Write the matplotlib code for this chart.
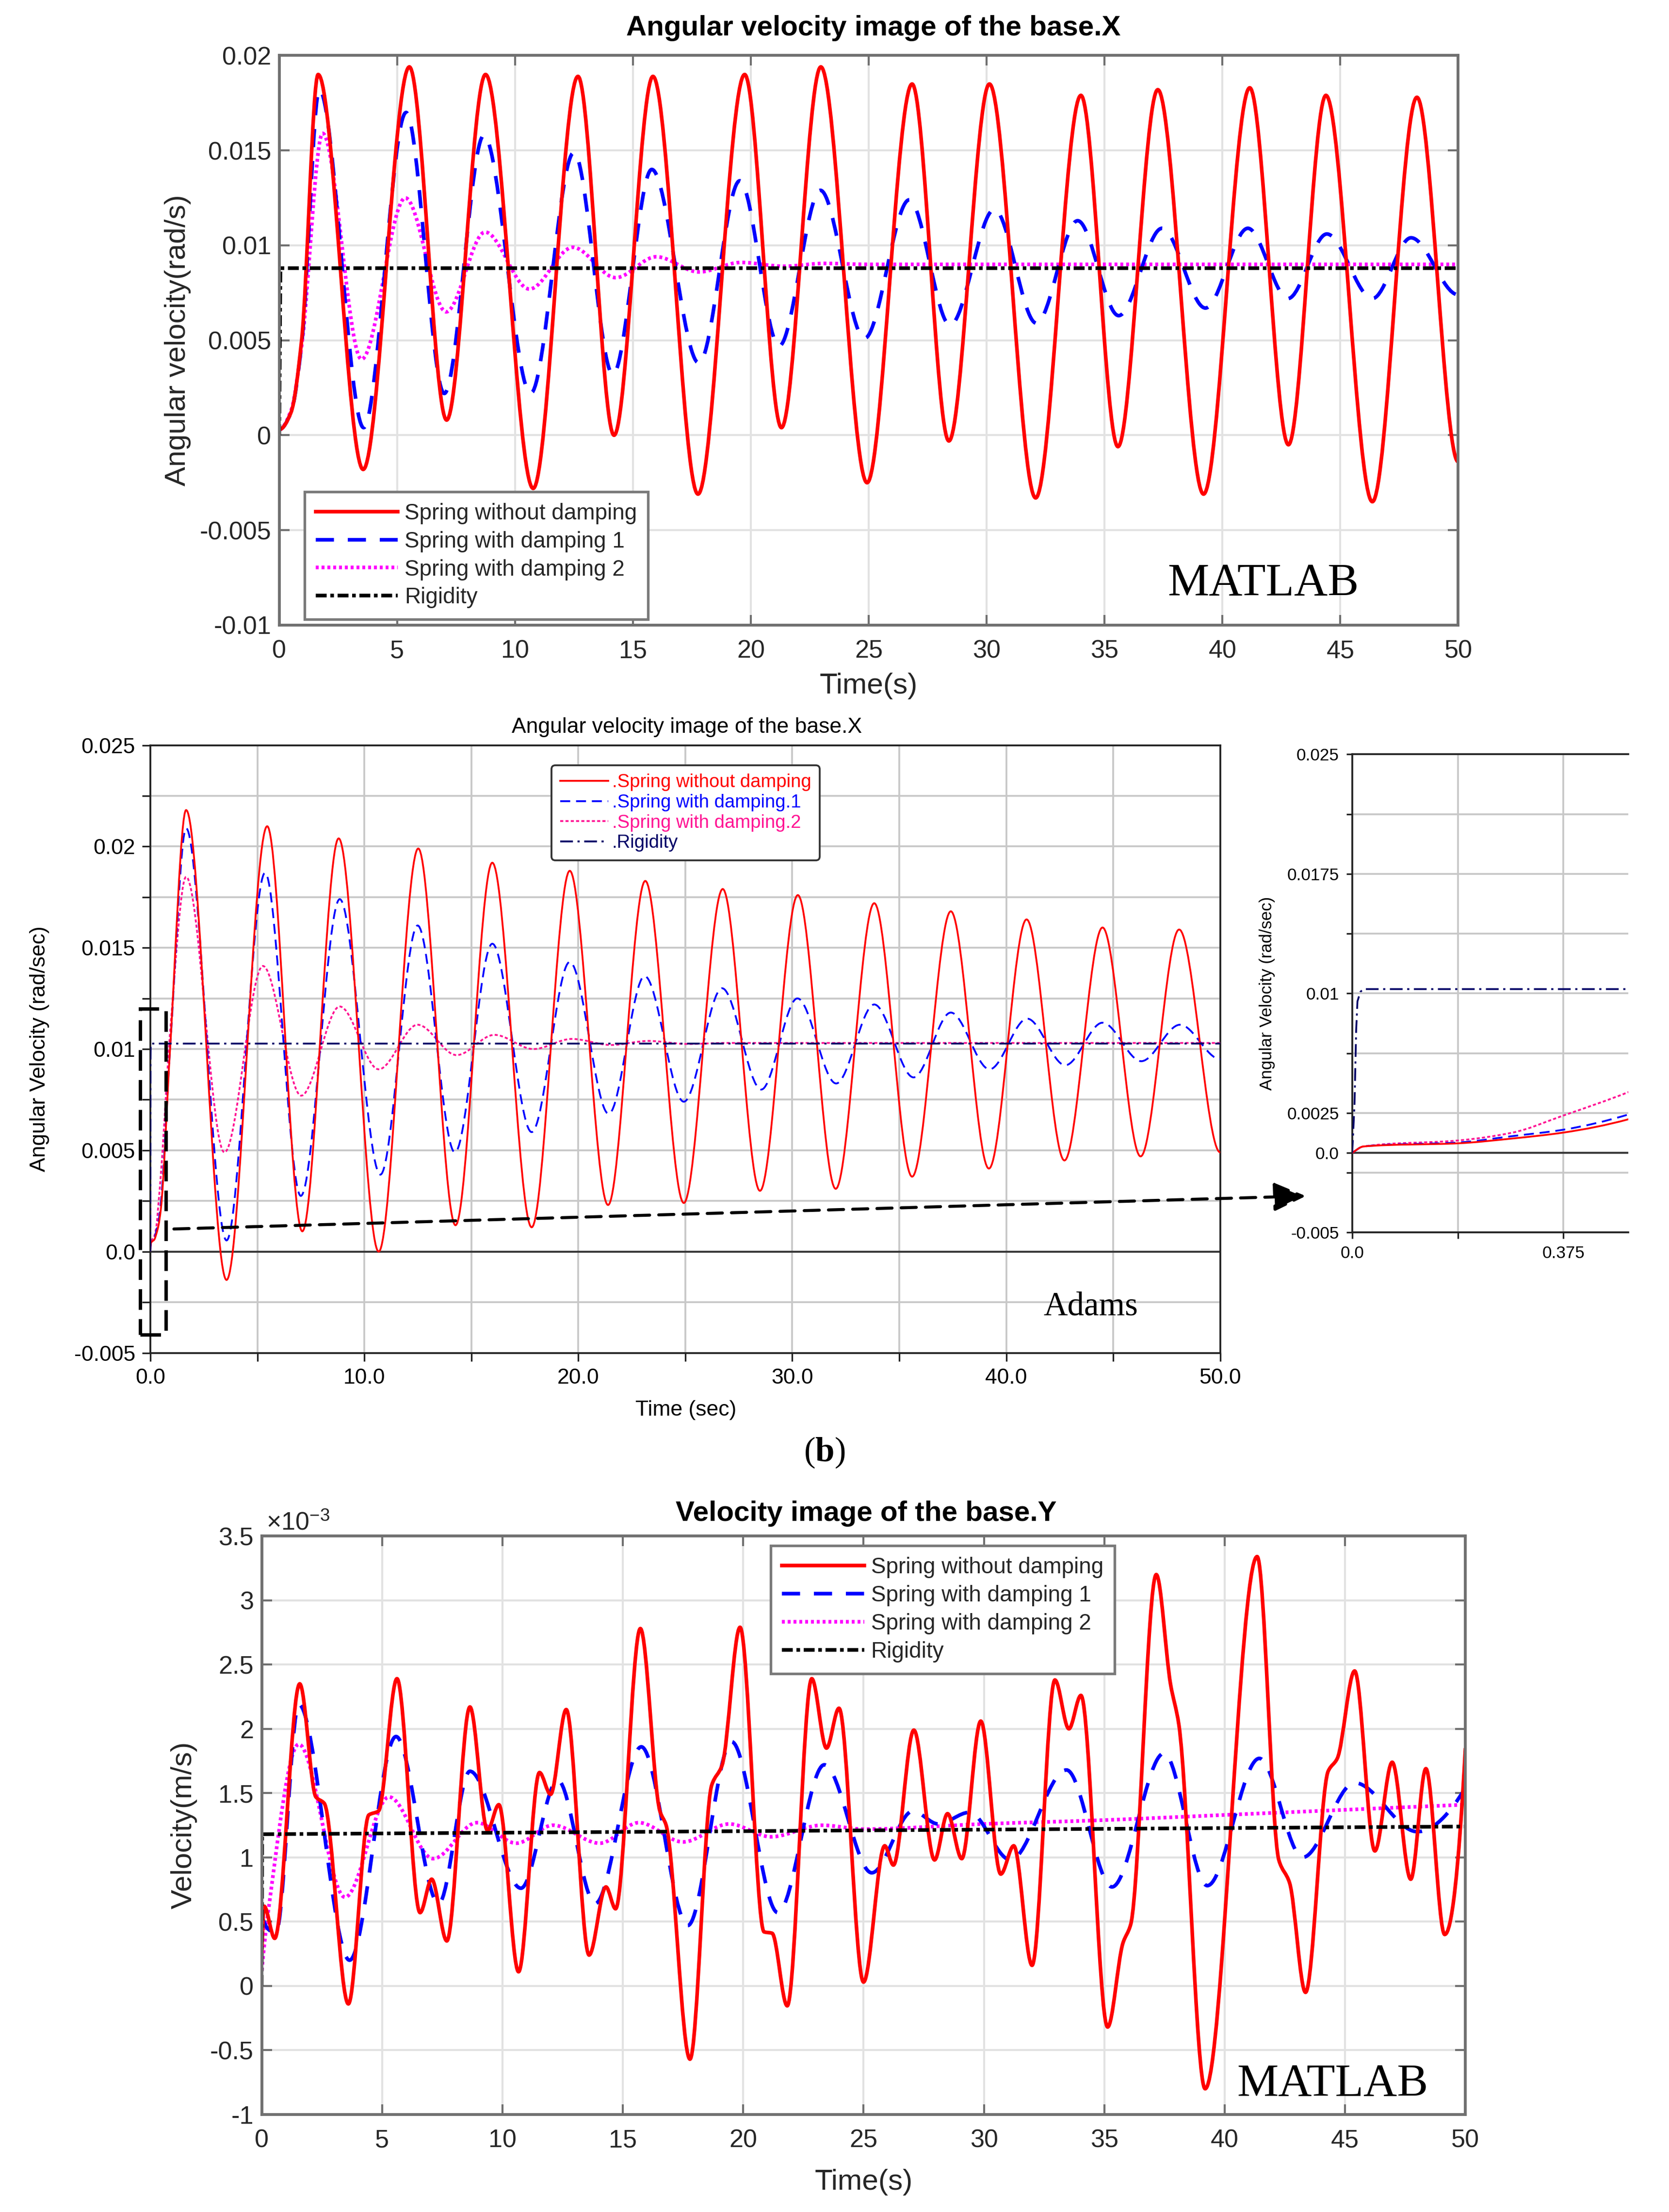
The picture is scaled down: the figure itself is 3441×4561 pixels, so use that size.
import numpy as np
import matplotlib
matplotlib.use("Agg")
import matplotlib.pyplot as plt
from matplotlib.path import Path
from matplotlib.patches import PathPatch, Rectangle, FancyArrowPatch
from matplotlib.lines import Line2D

plt.rcParams['font.family'] = ['Liberation Sans', 'DejaVu Sans']
plt.rcParams['mathtext.fontset'] = 'custom'
plt.rcParams['mathtext.rm'] = 'Liberation Sans'
plt.rcParams['mathtext.bf'] = 'Liberation Serif:bold'

# ---------------- data ----------------
# panel (a) MATLAB, angular velocity X (rad/s), extrema of each curve
p1_red_t = [0, 0.5, 0.95, 1.65, 3.56, 5.52, 7.1, 8.75, 10.77, 12.67, 14.2, 15.85, 17.76, 19.74, 21.3,
            22.97, 24.93, 26.84, 28.4, 30.12, 32.08, 34.0, 35.57, 37.26, 39.2, 41.16, 42.8, 44.39,
            46.36, 48.25, 50.0]
p1_red_v = [0.0003, 0.0012, 0.005, 0.0190, -0.0018, 0.0194, 0.0008, 0.0190, -0.0028, 0.0189, 0.0000,
            0.0189, -0.0031, 0.0190, 0.0004, 0.0194, -0.0025, 0.0185, -0.0003, 0.0185, -0.0033,
            0.0179, -0.0006, 0.0182, -0.0031, 0.0183, -0.0005, 0.0179, -0.0035, 0.0178, -0.0014]
p1_blue_t = [0, 0.5, 0.95, 1.7, 3.58, 5.38, 7.0, 8.68, 10.66, 12.5, 14.15, 15.8, 17.8, 19.53, 21.2,
             22.95, 24.82, 26.72, 28.45, 30.33, 32.11, 33.86, 35.6, 37.44, 39.28, 41.08, 42.78,
             44.43, 46.36, 48.0, 50.0]
p1_blue_v = [0.0003, 0.0012, 0.0048, 0.0182, 0.0004, 0.0170, 0.0022, 0.0158, 0.0022, 0.0149, 0.0032,
             0.0140, 0.0038, 0.0134, 0.0047, 0.0129, 0.0051, 0.0124, 0.0058, 0.0119, 0.0059, 0.0113,
             0.0063, 0.0109, 0.0067, 0.0109, 0.0072, 0.0106, 0.0072, 0.0104, 0.0074]
p1_mag_t = [0, 0.5, 0.95, 1.84, 3.49, 5.35, 7.08, 8.73, 10.61, 12.45, 14.27, 15.99, 17.8, 19.58,
            21.4, 23.1, 25.0, 50.0]
p1_mag_v = [0.0003, 0.0013, 0.0047, 0.0159, 0.0040, 0.0125, 0.0065, 0.0107, 0.0077, 0.0099, 0.0083,
            0.0094, 0.0086, 0.0091, 0.0089, 0.00905, 0.0090, 0.0090]
p1_rig_t = [0, 0.05, 50]
p1_rig_v = [0, 0.0088, 0.0088]

# panel (b) Adams, angular velocity X (rad/sec)
p2_red_t = [0, 0.02, 0.19, 0.285, 0.375, 0.49, 0.92, 1.67, 3.56, 5.46, 7.1, 8.8, 10.67, 12.52, 14.26,
            15.98, 17.82, 19.6, 21.39, 23.13, 24.93, 26.75, 28.49, 30.26, 32.03, 33.83, 35.6, 37.41,
            39.19, 40.95, 42.72, 44.5, 46.28, 48.08, 50.0]
p2_red_v = [0.0, 0.0004, 0.0006, 0.0009, 0.00127, 0.0021, 0.0100, 0.0218, -0.0014, 0.0210, 0.0010,
            0.0204, 0.0000, 0.0199, 0.0013, 0.0192, 0.0012, 0.0188, 0.0023, 0.0183, 0.0024, 0.0179,
            0.0030, 0.0176, 0.0031, 0.0172, 0.0037, 0.0168, 0.0041, 0.0164, 0.0045, 0.0160, 0.0047,
            0.0159, 0.0049]
p2_blue_t = [0, 0.02, 0.19, 0.285, 0.375, 0.49, 0.92, 1.67, 3.56, 5.36, 7.03, 8.85, 10.75, 12.49,
             14.23, 15.98, 17.82, 19.6, 21.42, 23.1, 24.93, 26.72, 28.55, 30.24, 32.05, 33.83, 35.67,
             37.41, 39.22, 40.98, 42.76, 44.5, 46.31, 48.12, 50.0]
p2_blue_v = [0, 0.0004, 0.00065, 0.00105, 0.00145, 0.0024, 0.0100, 0.0209, 0.00055, 0.0187, 0.00275,
             0.0174, 0.0038, 0.0161, 0.0049, 0.0152, 0.0059, 0.0143, 0.0068, 0.0136, 0.0074, 0.0130,
             0.0080, 0.0125, 0.0083, 0.0122, 0.0086, 0.0118, 0.0090, 0.0115, 0.0092, 0.0113, 0.0094,
             0.0112, 0.0095]
p2_pink_t = [0, 0.02, 0.19, 0.285, 0.375, 0.49, 0.92, 1.67, 3.46, 5.26, 7.05, 8.85, 10.67, 12.49,
             14.31, 16.08, 17.9, 19.7, 21.52, 23.29, 25.1, 27.0, 50.0]
p2_pink_v = [0, 0.0004, 0.00078, 0.00127, 0.00234, 0.0038, 0.0108, 0.0185, 0.0049, 0.0141, 0.0077,
             0.0121, 0.0090, 0.0112, 0.0097, 0.0107, 0.0100, 0.0105, 0.0102, 0.0104, 0.01025, 0.0103,
             0.0103]
p2_rig_t = [0, 0.004, 0.007, 0.0093, 0.0145, 0.02, 50]
p2_rig_v = [0, 0.003, 0.0077, 0.0095, 0.0101, 0.01027, 0.01027]

# panel (c) MATLAB, velocity Y (x1e-3 m/s)
p3_red_t = [0, 0.1, 0.54, 1.58, 2.25, 2.6, 3.6, 4.45, 4.85, 5.62, 6.58, 7.06, 7.69, 8.65, 9.38, 9.85,
            10.67, 11.54, 12.0, 12.65, 13.6, 14.3, 14.7, 15.73, 16.54, 16.8, 17.79, 18.69, 19.13,
            19.87, 20.87, 21.2, 21.83, 22.85, 23.46, 23.98, 25.0, 25.88, 26.24, 27.09, 27.95, 28.49,
            29.08, 29.87, 30.7, 31.24, 32.0, 32.95, 33.53, 34.03, 35.14, 35.77, 36.1, 37.16, 37.75,
            38.1, 39.19, 41.35, 42.25, 42.7, 43.36, 44.3, 44.68, 45.4, 46.24, 46.96, 47.73, 48.36,
            49.14, 50.0]
p3_red_v = [0.25, 0.62, 0.37, 2.35, 1.47, 1.42, -0.14, 1.33, 1.36, 2.39, 0.57, 0.83, 0.35, 2.17, 1.21,
            1.41, 0.11, 1.66, 1.49, 2.15, 0.24, 0.77, 0.60, 2.78, 1.36, 1.25, -0.57, 1.56, 1.72, 2.79,
            0.42, 0.41, -0.155, 2.39, 1.85, 2.16, 0.03, 1.09, 0.94, 1.99, 0.98, 1.34, 0.99, 2.06, 0.87,
            1.09, 0.16, 2.38, 2.0, 2.26, -0.32, 0.33, 0.48, 3.2, 2.35, 2.03, -0.80, 3.34, 0.98, 0.8,
            -0.05, 1.67, 1.77, 2.45, 1.05, 1.74, 0.83, 1.69, 0.40, 1.85]
p3_blue_t = [0, 0.6, 1.54, 3.65, 5.58, 7.35, 8.65, 10.77, 12.3, 13.85, 15.77, 17.7, 19.52, 21.44,
             23.37, 25.34, 27.05, 28.1, 29.4, 31.1, 33.43, 35.32, 37.48, 39.28, 41.44, 43.24, 45.4,
             48.0, 50.0]
p3_blue_v = [0.55, 0.42, 2.19, 0.2, 1.94, 0.64, 1.67, 0.76, 1.6, 0.64, 1.86, 0.47, 1.9, 0.57, 1.72,
             0.88, 1.36, 1.26, 1.35, 0.98, 1.68, 0.77, 1.81, 0.78, 1.77, 1.0, 1.58, 1.2, 1.54]
p3_mag_t = [0, 0.25, 1.54, 3.46, 5.29, 7.12, 8.94, 10.58, 12.1, 14.04, 15.67, 17.5, 19.42, 21.15,
            23.27, 25.0, 30.0, 35.0, 40.0, 45.0, 50.0]
p3_mag_v = [0.12, 0.55, 1.88, 0.69, 1.47, 0.99, 1.27, 1.11, 1.25, 1.11, 1.27, 1.12, 1.26, 1.16, 1.25,
            1.22, 1.26, 1.29, 1.33, 1.37, 1.41]
p3_rig_t = [0, 0.02, 50]
p3_rig_v = [0, 1.18, 1.24]

labels_matlab = ["Spring without damping", "Spring with damping 1", "Spring with damping 2", "Rigidity"]
labels_adams = [".Spring without damping", ".Spring with damping.1", ".Spring with damping.2", ".Rigidity"]


def smooth_path(t, v, flat_end=False):
    # monotone cubic through the read points, drawn as Bezier segments
    t = np.asarray(t, float)
    v = np.asarray(v, float)
    h = np.diff(t)
    d = np.diff(v) / h
    n = len(t)
    m = np.zeros(n)
    for k in range(1, n - 1):
        if d[k - 1] * d[k] > 0:
            w1 = 2 * h[k] + h[k - 1]
            w2 = h[k] + 2 * h[k - 1]
            m[k] = (w1 + w2) / (w1 / d[k - 1] + w2 / d[k])

    def end_slope(h0, h1, d0, d1):
        s = ((2 * h0 + h1) * d0 - h0 * d1) / (h0 + h1)
        if np.sign(s) != np.sign(d0):
            return 0.0
        if np.sign(d0) != np.sign(d1) and abs(s) > abs(3 * d0):
            return 3 * d0
        return s

    m[0] = end_slope(h[0], h[1], d[0], d[1])
    m[-1] = end_slope(h[-1], h[-2], d[-1], d[-2])
    if flat_end:
        m[-1] = 0.0
    verts = [(t[0], v[0])]
    codes = [Path.MOVETO]
    for k in range(n - 1):
        verts.append((t[k] + h[k] / 3, v[k] + m[k] * h[k] / 3))
        verts.append((t[k + 1] - h[k] / 3, v[k + 1] - m[k + 1] * h[k] / 3))
        verts.append((t[k + 1], v[k + 1]))
        codes += [Path.CURVE4] * 3
    return Path(verts, codes)


def curve(ax, t, v, color, lw, dashes=None, flat_end=False, z=3):
    p = PathPatch(smooth_path(t, v, flat_end), facecolor='none', edgecolor=color, lw=lw,
                  zorder=z, capstyle='butt', joinstyle='round')
    if dashes is not None:
        p.set_linestyle((0, dashes))
    ax.add_patch(p)


fig = plt.figure(figsize=(3441 / 300, 4561 / 300), dpi=300)

# ---------------- MATLAB style bits ----------------
M_LW = 1.8
M_STY = [('#ff0000', None), ('#0000ff', (5.0, 3.8)), ('#ff00ff', (0.8, 0.8)), ('#000000', (3, 1, 1, 1))]
TXT = '#262626'


def matlab_axes(ax, yticks, ylabels):
    ax.set_xlim(0, 50)
    ax.set_xticks(np.arange(0, 51, 5))
    ax.set_xticklabels([str(x) for x in range(0, 51, 5)])
    ax.set_yticks(yticks)
    ax.set_yticklabels(ylabels)
    ax.set_ylim(yticks[0], yticks[-1])
    ax.grid(True, color='#e2e2e2', lw=1.0, zorder=0)
    ax.set_axisbelow(True)
    for s in ax.spines.values():
        s.set_color('#707070')
        s.set_linewidth(1.4)
        s.set_zorder(5)
    ax.tick_params(direction='in', length=5, width=1.0, color='#707070', top=True, right=True,
                   labelsize=12.5, labelcolor=TXT)
    ax.tick_params(axis='x', pad=7)
    ax.tick_params(axis='y', pad=4)


def matlab_legend(ax, anchor, loc):
    hs = [Line2D([], [], color=c, lw=M_LW, dashes=d if d else (None, None)) for c, d in M_STY]
    leg = ax.legend(hs, labels_matlab, loc=loc, bbox_to_anchor=anchor, fontsize=11, frameon=True,
                    fancybox=False, framealpha=1, edgecolor='#7a7a7a', borderpad=0.5,
                    labelspacing=0.3, handlelength=3.7, handletextpad=0.3, borderaxespad=0)
    leg.get_frame().set_linewidth(1.3)
    for tx in leg.get_texts():
        tx.set_color(TXT)
    leg.set_zorder(10)


# ---------------- panel 1 ----------------
ax1 = fig.add_axes([0.1673, 0.7174, 0.7064, 0.2575])
matlab_axes(ax1, [-0.01, -0.005, 0, 0.005, 0.01, 0.015, 0.02],
            ['-0.01', '-0.005', '0', '0.005', '0.01', '0.015', '0.02'])
ax1.plot(p1_rig_t, p1_rig_v, color='#000000', lw=M_LW, dashes=(3, 1, 1, 1), zorder=4)
curve(ax1, p1_mag_t, p1_mag_v, '#ff00ff', M_LW, (0.8, 0.8), z=3)
curve(ax1, p1_blue_t, p1_blue_v, '#0000ff', M_LW, (5.0, 3.8), flat_end=True, z=3)
curve(ax1, p1_red_t, p1_red_v, '#ff0000', M_LW, flat_end=True, z=3)
ax1.set_ylabel('Angular velocity(rad/s)', fontsize=14.5, color=TXT)
ax1.yaxis.set_label_coords(-0.086, 0.5)
ax1.yaxis.label.set_va('center')
ax1.set_xlabel('Time(s)', fontsize=14.5, color=TXT)
ax1.xaxis.set_label_coords(0.5, -0.107)
ax1.xaxis.label.set_va('center')
ax1.text(0.504, 1.048, 'Angular velocity image of the base.X', transform=ax1.transAxes,
         ha='center', va='center', fontsize=14, fontweight='bold')
matlab_legend(ax1, (0.0215, 0.01), 'lower left')
ax1.text(0.8345, 0.072, 'MATLAB', transform=ax1.transAxes, ha='center', va='center',
         family='Liberation Serif', fontsize=23, zorder=11)

# ---------------- panel 2 (Adams) ----------------
A_LW = 0.9
A_STY = [('#ff0000', None), ('#0000ff', (5.5, 3.2)), ('#ff1493', (1.7, 1.2)), ('#000066', (7, 2.5, 1.2, 2.5))]
A_FS = 10.7


def adams_axes(ax):
    ax.grid(True, which='both', color='#c8c8c8', lw=0.9, zorder=0)
    ax.set_axisbelow(True)
    ax.axhline(0, color='#3a3a3a', lw=1.0, zorder=1)
    for s in ax.spines.values():
        s.set_color('#222222')
        s.set_linewidth(0.9)
    ax.tick_params(which='both', direction='out', length=4, width=0.8, color='#222222',
                   labelsize=A_FS, pad=3.5)


ax2 = fig.add_axes([0.0901, 0.3884, 0.641, 0.2747])
ax2.set_xlim(0, 50)
ax2.set_ylim(-0.005, 0.025)
ax2.set_xticks([0, 10, 20, 30, 40, 50])
ax2.set_xticklabels(['0.0', '10.0', '20.0', '30.0', '40.0', '50.0'])
ax2.set_xticks([5, 15, 25, 35, 45], minor=True)
ax2.set_yticks([-0.005, 0, 0.005, 0.01, 0.015, 0.02, 0.025])
ax2.set_yticklabels(['-0.005', '0.0', '0.005', '0.01', '0.015', '0.02', '0.025'])
ax2.set_yticks([-0.0025, 0.0025, 0.0075, 0.0125, 0.0175, 0.0225], minor=True)
adams_axes(ax2)
ax2.plot(p2_rig_t, p2_rig_v, color='#000066', lw=A_LW, dashes=(7, 2.5, 1.2, 2.5), zorder=4)
curve(ax2, p2_pink_t, p2_pink_v, '#ff1493', A_LW, (1.7, 1.2), z=3)
curve(ax2, p2_blue_t, p2_blue_v, '#0000ff', A_LW, (5.5, 3.2), flat_end=True, z=3)
curve(ax2, p2_red_t, p2_red_v, '#ff0000', A_LW, flat_end=True, z=3)
ax2.set_ylabel('Angular Velocity (rad/sec)', fontsize=A_FS)
ax2.yaxis.set_label_coords(-0.1036, 0.5)
ax2.yaxis.label.set_va('center')
ax2.set_xlabel('Time (sec)', fontsize=A_FS)
ax2.xaxis.set_label_coords(0.5007, -0.094)
ax2.xaxis.label.set_va('center')
ax2.text(0.5016, 1.03, 'Angular velocity image of the base.X', transform=ax2.transAxes,
         ha='center', va='center', fontsize=A_FS)
hs2 = [Line2D([], [], color=c, lw=A_LW, dashes=d if d else (None, None)) for c, d in A_STY]
leg2 = ax2.legend(hs2, labels_adams, loc='upper left', bbox_to_anchor=(0.3751, 0.967), fontsize=9.2,
                  frameon=True, fancybox=True, framealpha=1, edgecolor='#333333', borderpad=0.45,
                  labelspacing=0.15, handlelength=2.6, handletextpad=0.2, borderaxespad=0,
                  labelcolor='linecolor')
leg2.get_frame().set_linewidth(0.9)
ax2.text(0.879, 0.0756, 'Adams', transform=ax2.transAxes, ha='center', va='center',
         family='Liberation Serif', fontsize=16.5)
ax2.add_patch(Rectangle((-0.47, -0.0041), 1.2, 0.0161, fill=False, ec='black', lw=1.7,
                        ls=(0, (6, 2.7)), clip_on=False, zorder=6))

# zoomed inset
ax3 = fig.add_axes([0.8102, 0.4428, 0.1653, 0.2162])
ax3.set_xlim(0, 0.49)
ax3.set_ylim(-0.005, 0.025)
ax3.set_xticks([0, 0.375])
ax3.set_xticklabels(['0.0', '0.375'])
ax3.set_xticks([0.1875], minor=True)
ax3.set_yticks([-0.005, 0, 0.0025, 0.01, 0.0175, 0.025])
ax3.set_yticklabels(['-0.005', '0.0', '0.0025', '0.01', '0.0175', '0.025'])
ax3.set_yticks([-0.00125, 0.00625, 0.01375, 0.02125], minor=True)
adams_axes(ax3)
ax3.spines['right'].set_visible(False)
ax3.tick_params(which='both', labelsize=8.4, length=3)
ax3.plot(p2_rig_t, p2_rig_v, color='#000066', lw=A_LW, dashes=(7, 2.5, 1.2, 2.5), zorder=4)
curve(ax3, p2_pink_t, p2_pink_v, '#ff1493', A_LW, (1.7, 1.2), z=3)
curve(ax3, p2_blue_t, p2_blue_v, '#0000ff', A_LW, (5.5, 3.2), flat_end=True, z=3)
curve(ax3, p2_red_t, p2_red_v, '#ff0000', A_LW, flat_end=True, z=3)
ax3.set_ylabel('Angular Velocity (rad/sec)', fontsize=8.4)
ax3.yaxis.set_label_coords(-0.308, 0.5)
ax3.yaxis.label.set_va('center')

# dashed arrow from the box to the inset
fig.add_artist(FancyArrowPatch((0.1042, 0.4444), (0.7824, 0.4593), transform=fig.transFigure,
                               arrowstyle='-|>,head_length=0.4,head_width=0.18', mutation_scale=34,
                               lw=1.5, ls=(0, (5, 3)), color='black', shrinkA=0, shrinkB=0))

fig.text(0.494, 0.3433, r'($\mathbf{b}$)', family='Liberation Serif', fontsize=17,
         ha='center', va='center')

# ---------------- panel 3 ----------------
ax4 = fig.add_axes([0.1568, 0.0441, 0.7212, 0.2615])
matlab_axes(ax4, [-1, -0.5, 0, 0.5, 1, 1.5, 2, 2.5, 3, 3.5],
            ['-1', '-0.5', '0', '0.5', '1', '1.5', '2', '2.5', '3', '3.5'])
ax4.plot(p3_rig_t, p3_rig_v, color='#000000', lw=M_LW, dashes=(3, 1, 1, 1), zorder=4)
curve(ax4, p3_mag_t, p3_mag_v, '#ff00ff', M_LW, (0.8, 0.8), z=3)
curve(ax4, p3_blue_t, p3_blue_v, '#0000ff', M_LW, (5.0, 3.8), z=3)
curve(ax4, p3_red_t, p3_red_v, '#ff0000', M_LW, z=3)
ax4.set_ylabel('Velocity(m/s)', fontsize=14.5, color=TXT)
ax4.yaxis.set_label_coords(-0.0646, 0.5)
ax4.yaxis.label.set_va('center')
ax4.set_xlabel('Time(s)', fontsize=14.5, color=TXT)
ax4.xaxis.set_label_coords(0.5, -0.117)
ax4.xaxis.label.set_va('center')
ax4.text(0.502, 1.039, 'Velocity image of the base.Y', transform=ax4.transAxes,
         ha='center', va='center', fontsize=14, fontweight='bold')
ax4.text(0.004, 1.022, r'$\times\mathregular{10^{-3}}$', transform=ax4.transAxes, ha='left',
         va='center', fontsize=12.5, color=TXT)
matlab_legend(ax4, (0.423, 0.983), 'upper left')
ax4.text(0.8895, 0.051, 'MATLAB', transform=ax4.transAxes, ha='center', va='center',
         family='Liberation Serif', fontsize=23, zorder=11)

fig.savefig('out.png', dpi=300, facecolor='white')
